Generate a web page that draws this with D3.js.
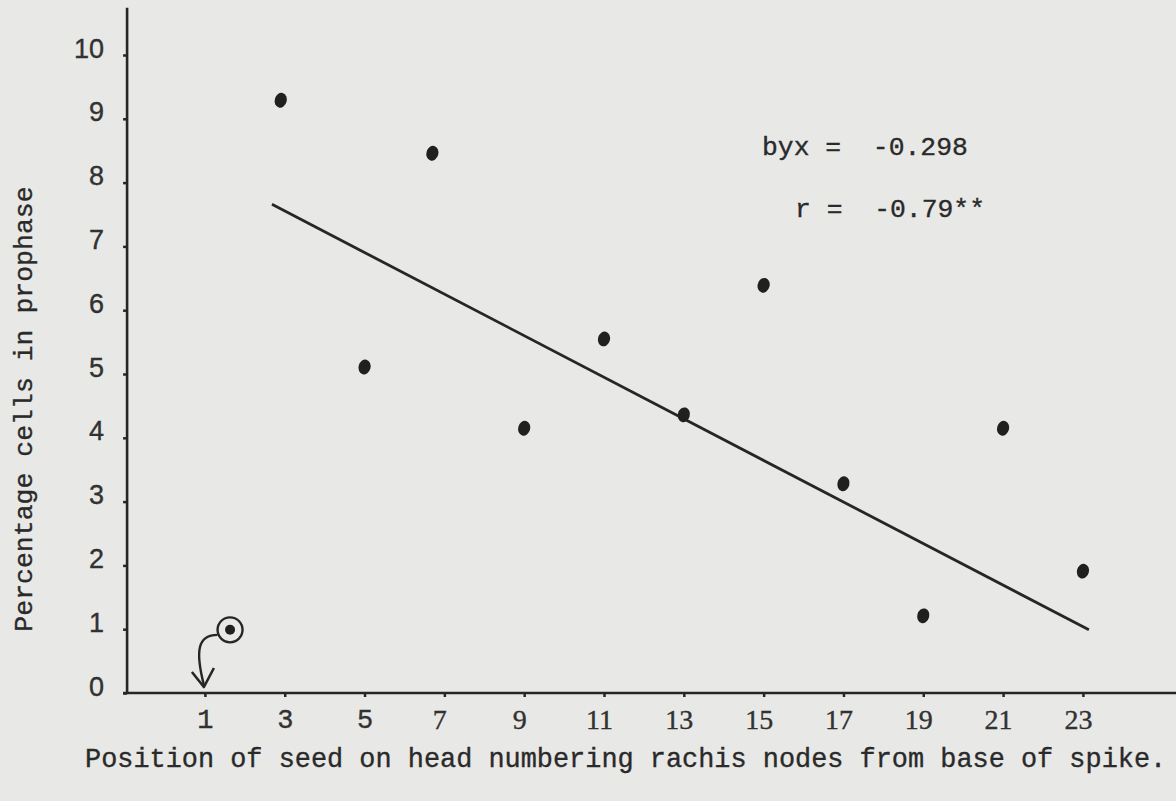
<!DOCTYPE html>
<html>
<head>
<meta charset="utf-8">
<script src="https://cdn.jsdelivr.net/npm/d3@7"></script>
<style>
  html, body { margin: 0; padding: 0; background: #e8e8e6; }
  svg { display: block; }
  text { stroke: #2a2a2a; stroke-width: 0.35px; }
</style>
</head>
<body>
<svg id="chart"></svg>
<script>
// Data.
var seedPositions = [2.9, 5, 6.7, 9, 11, 13, 15, 17, 19, 21, 23]
var prophasePercent = [9.29, 5.11, 8.46, 4.15, 5.55, 4.36, 6.39, 3.28, 1.21, 4.15, 1.91]
// The circled point near position 1, with an arrow pointing at the axis.
var circledPoint = [1.63, 0.99]
// Fitted regression line, end points as drawn.
var regressionLine = [[2.68, 7.66], [23.15, 0.99]]
var xTickValues = [1, 3, 5, 7, 9, 11, 13, 15, 17, 19, 21, 23]
var yTickValues = [0, 1, 2, 3, 4, 5, 6, 7, 8, 9, 10]
var statLines = ['byx =  -0.298', 'r =  -0.79**']

// Page setup
var width = 1176
var height = 801
var ink = '#262626'
var mono = '"Liberation Mono", "DejaVu Sans Mono", monospace'
var serif = '"Liberation Serif", "DejaVu Serif", serif'
var sans = '"Liberation Sans", "DejaVu Sans", sans-serif'

var svg = d3.select('#chart')
  .attr('width', width)
  .attr('height', height)

svg.append('rect')
  .attr('width', width)
  .attr('height', height)
  .attr('fill', '#e8e8e6')

// Scales: one unit of seed position is about 40px, one percent about 64px.
var x = d3.scaleLinear().domain([0, 22]).range([165, 1043])
var y = d3.scaleLinear().domain([0, 10]).range([693, 55])

// X axis runs to the right edge of the page.
var xAxis = d3.axisBottom(x)
  .tickValues(xTickValues)
  .tickSize(4)
  .tickPadding(12)
  .tickFormat(d3.format('d'))

var gx = svg.append('g')
  .attr('transform', 'translate(0,' + y(0) + ')')
  .call(xAxis)
gx.select('.domain')
  .attr('d', 'M' + x(-1.05) + ',0H' + width)
  .attr('stroke', ink)
  .attr('stroke-width', 2.6)
gx.selectAll('.tick line').attr('stroke', ink).attr('stroke-width', 2.5)
gx.selectAll('.tick text')
  .attr('fill', '#333')
  .attr('font-size', function (d) { return d <= 5 ? 27 : 28 })
  .attr('font-family', function (d) { return d <= 5 ? mono : serif })
  .attr('dx', function (d) { return d <= 5 ? 0 : -5 })

// Y axis
var yAxis = d3.axisLeft(y)
  .tickValues(yTickValues)
  .tickSize(4)
  .tickPadding(19)
  .tickFormat(d3.format('d'))

var gy = svg.append('g')
  .attr('transform', 'translate(' + x(-0.95) + ',0)')
  .call(yAxis)
gy.select('.domain')
  .attr('d', 'M0,' + y(0) + 'V' + y(10.74))
  .attr('stroke', ink)
  .attr('stroke-width', 2.6)
gy.selectAll('.tick line').attr('stroke', ink).attr('stroke-width', 2.5)
gy.selectAll('.tick text')
  .attr('fill', '#333')
  .attr('font-size', 27)
  .attr('font-family', sans)
  .attr('dy', '0.08em')

// Regression line
svg.append('line')
  .attr('x1', x(regressionLine[0][0]))
  .attr('y1', y(regressionLine[0][1]))
  .attr('x2', x(regressionLine[1][0]))
  .attr('y2', y(regressionLine[1][1]))
  .attr('stroke', ink)
  .attr('stroke-width', 2.8)

// Hand-inked dots, slightly oval
svg.append('g')
  .selectAll('ellipse')
  .data(seedPositions)
  .enter()
  .append('ellipse')
  .attr('cx', function (d) { return x(d) })
  .attr('cy', function (d, i) { return y(prophasePercent[i]) })
  .attr('rx', 6)
  .attr('ry', 7.5)
  .attr('transform', function (d, i) {
    return 'rotate(15,' + x(d) + ',' + y(prophasePercent[i]) + ')'
  })
  .attr('fill', '#202020')

// Circled point and the curved arrow down to position 1
var cx = x(circledPoint[0])
var cy = y(circledPoint[1])
svg.append('circle')
  .attr('cx', cx).attr('cy', cy).attr('r', 5)
  .attr('fill', '#202020')
svg.append('circle')
  .attr('cx', cx).attr('cy', cy).attr('r', 12.5)
  .attr('fill', 'none')
  .attr('stroke', ink)
  .attr('stroke-width', 2.4)

var tipX = x(1)
var tipY = y(0) - 8
var arrow = d3.path()
arrow.moveTo(cx - 12.5, cy + 5)
arrow.bezierCurveTo(cx - 32, cy + 5, tipX - 10, cy + 20, tipX - 1, tipY)
svg.append('path')
  .attr('d', arrow.toString())
  .attr('fill', 'none')
  .attr('stroke', ink)
  .attr('stroke-width', 2.4)
svg.append('path')
  .attr('d', 'M' + (tipX - 13) + ',' + (tipY - 13) + 'L' + (tipX - 1) + ',' + (tipY + 2) + 'L' + (tipX + 9) + ',' + (tipY - 17))
  .attr('fill', 'none')
  .attr('stroke', ink)
  .attr('stroke-width', 2.6)
  .attr('stroke-linejoin', 'round')

// Statistics text
svg.append('text')
  .attr('x', 762).attr('y', 155)
  .attr('font-family', mono).attr('font-size', 26.4)
  .attr('fill', '#2a2a2a')
  .style('white-space', 'pre')
  .text(statLines[0])
svg.append('text')
  .attr('x', 795).attr('y', 217)
  .attr('font-family', mono).attr('font-size', 26.4)
  .attr('fill', '#2a2a2a')
  .style('white-space', 'pre')
  .text(statLines[1])

// Axis titles
svg.append('text')
  .attr('transform', 'translate(32,409) rotate(-90)')
  .attr('text-anchor', 'middle')
  .attr('font-family', mono).attr('font-size', 26.5)
  .attr('fill', '#2a2a2a')
  .text('Percentage cells in prophase')

svg.append('text')
  .attr('x', 85).attr('y', 767)
  .attr('font-family', mono).attr('font-size', 26.9)
  .attr('fill', '#2a2a2a')
  .text('Position of seed on head numbering rachis nodes from base of spike.')
</script>
</body>
</html>
